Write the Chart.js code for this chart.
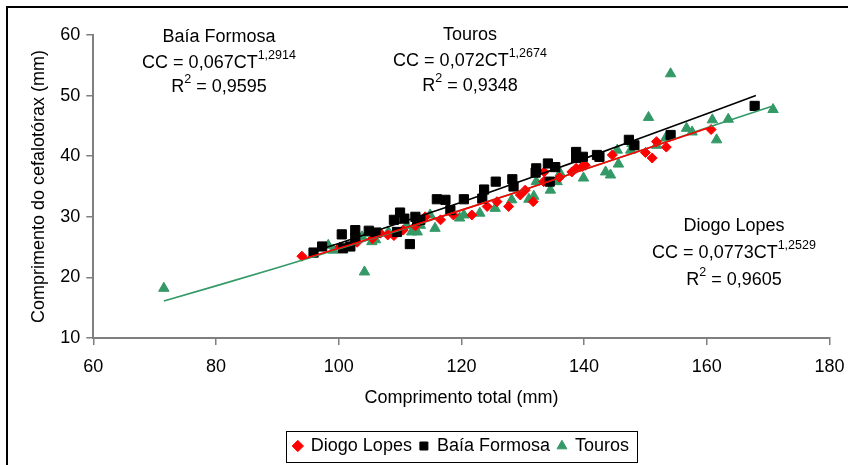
<!DOCTYPE html>
<html>
<head>
<meta charset="utf-8">
<script src="https://cdn.jsdelivr.net/npm/chart.js@4.4.0/dist/chart.umd.min.js"></script>
<style>
  html, body { margin: 0; padding: 0; background: #fff; }
  #wrap { position: relative; width: 848px; height: 465px; }
</style>
</head>
<body>
<div id="wrap"><canvas id="chart" width="848" height="465"></canvas></div>
<script>
// Diogo Lopes (red diamonds)
const dlX = [94.0, 100.2, 103.0, 105.5, 106.8, 108.0, 109.0, 110.5, 112.5, 114.1, 116.6, 118.7, 121.7, 124.2, 125.8, 127.7, 129.6, 130.4, 131.7, 133.4, 133.5, 136.0, 138.0, 138.7, 139.7, 140.2, 144.6, 150.0, 151.1, 151.8, 153.4, 160.7];
const dlY = [23.5, 25.0, 25.8, 26.4, 27.3, 27.0, 26.9, 27.8, 28.5, 30.0, 29.5, 30.3, 30.3, 31.7, 32.5, 31.7, 33.6, 34.4, 32.5, 35.8, 37.4, 36.5, 37.4, 38.0, 38.3, 38.5, 40.2, 40.6, 39.7, 42.4, 41.5, 44.4];

// Baía Formosa (black squares)
const bfX = [95.9, 97.3, 100.5, 100.7, 101.9, 102.7, 102.7, 104.9, 106.0, 109.0, 109.5, 110.0, 110.7, 111.6, 112.5, 112.8, 113.3, 116.0, 117.4, 118.2, 120.4, 123.4, 123.7, 125.6, 128.3, 128.5, 132.1, 132.2, 134.1, 134.4, 135.3, 138.7, 138.7, 139.8, 142.1, 142.5, 147.3, 148.2, 154.1, 167.8];
const bfY = [24.1, 25.1, 27.1, 24.8, 25.1, 27.8, 26.5, 27.7, 27.4, 29.5, 27.5, 30.7, 29.7, 25.5, 30.0, 29.4, 29.5, 32.9, 32.8, 31.1, 32.9, 33.0, 34.5, 35.8, 36.2, 35.0, 37.3, 38.0, 38.8, 35.8, 38.2, 40.7, 39.7, 39.9, 40.2, 39.9, 42.7, 41.8, 43.5, 48.3];

// Touros (green triangles)
const toX = [71.5, 98.3, 99.1, 103.8, 104.2, 104.9, 105.4, 106.0, 106.8, 108.1, 111.1, 111.9, 112.8, 113.3, 114.9, 115.7, 119.7, 120.4, 123.0, 125.5, 128.2, 131.0, 131.8, 132.2, 134.5, 135.6, 136.1, 139.9, 143.5, 144.3, 145.4, 145.6, 147.6, 147.8, 150.5, 151.8, 153.3, 154.1, 156.7, 157.6, 160.9, 161.6, 163.5, 170.8];
const toY = [18.2, 25.3, 24.5, 26.7, 20.9, 27.3, 25.9, 26.2, 27.3, 27.5, 28.6, 27.5, 27.5, 28.6, 30.3, 28.1, 29.8, 30.3, 30.6, 31.4, 32.8, 32.9, 33.4, 35.8, 34.4, 35.8, 37.2, 36.4, 37.4, 36.9, 41.0, 38.7, 41.0, 42.1, 46.4, 41.8, 43.0, 53.6, 44.6, 44.0, 46.0, 42.7, 46.1, 47.7];

// fitted curves
const dlFitX = [94, 100, 110, 120, 130, 140, 150, 160.7];
const dlFitY = [23.0, 24.8, 27.9, 31.1, 34.4, 37.8, 41.2, 44.8];
const bfFitX = [96, 100, 110, 120, 130, 140, 150, 160, 168];
const bfFitY = [24.3, 25.6, 29.0, 32.4, 36.0, 39.6, 43.3, 47.0, 50.0];
const toFitX = [71.5, 80, 90, 100, 110, 120, 130, 140, 150, 160, 170.5];
const toFitY = [16.1, 18.6, 21.6, 24.7, 27.8, 31.1, 34.4, 37.8, 41.2, 44.7, 48.2];

const xTicks = [60, 80, 100, 120, 140, 160, 180];
const yTicks = [10, 20, 30, 40, 50, 60];

const RED = '#ff0000', BLACK = '#000000', GREEN = '#339966';
const FONT = '"Liberation Sans", Arial, sans-serif';

const pts = (xs, ys) => xs.map((x, i) => ({ x: x, y: ys[i] }));

// equation labels: [text, isSuperscript]
const notes = [
  { cx: 219, lines: [[['Baía Formosa', 0]], [['CC = 0,067CT', 0], ['1,2914', 1]], [['R', 0], ['2', 1], [' = 0,9595', 0]]], base: [42, 68, 92] },
  { cx: 470, lines: [[['Touros', 0]], [['CC = 0,072CT', 0], ['1,2674', 1]], [['R', 0], ['2', 1], [' = 0,9348', 0]]], base: [40, 66, 91] },
  { cx: 734, lines: [[['Diogo Lopes', 0]], [['CC = 0,0773CT', 0], ['1,2529', 1]], [['R', 0], ['2', 1], [' = 0,9605', 0]]], base: [231, 258, 285] }
];

const extras = {
  id: 'extras',
  afterLayout(chart) {
    // centre the legend under the plot area, like the original
    const lg = chart.legend;
    lg.left = chart.chartArea.left;
    lg.right = chart.chartArea.right;
    lg.width = lg.right - lg.left;
  },
  beforeDraw(chart) {
    const ctx = chart.ctx;
    ctx.save();
    ctx.strokeStyle = '#000';
    ctx.lineWidth = 2;
    ctx.beginPath();
    ctx.moveTo(7, chart.height);
    ctx.lineTo(7, 7);
    ctx.lineTo(chart.width, 7);
    ctx.stroke();
    ctx.restore();
  },
  afterDraw(chart) {
    const ctx = chart.ctx;
    ctx.save();
    ctx.fillStyle = '#000';
    ctx.textBaseline = 'alphabetic';
    ctx.textAlign = 'left';
    const big = '18px ' + FONT, small = '12.5px ' + FONT;
    notes.forEach(n => {
      n.lines.forEach((parts, li) => {
        let w = 0;
        parts.forEach(p => { ctx.font = p[1] ? small : big; w += ctx.measureText(p[0]).width; });
        let x = n.cx - w / 2;
        const y = n.base[li];
        parts.forEach(p => {
          ctx.font = p[1] ? small : big;
          ctx.fillText(p[0], x, p[1] ? y - 9.5 : y);
          x += ctx.measureText(p[0]).width;
        });
      });
    });
    // box round the legend
    const hb = chart.legend.legendHitBoxes;
    if (hb && hb.length) {
      const l = hb[0].left - 8;
      const r = hb[hb.length - 1].left + hb[hb.length - 1].width + 8;
      ctx.strokeStyle = '#000';
      ctx.lineWidth = 1;
      ctx.strokeRect(Math.round(l) + 0.5, 431.5, Math.round(r - l), 31);
    }
    ctx.restore();
  }
};

Chart.defaults.font.family = FONT;
Chart.defaults.font.size = 18;
Chart.defaults.color = '#000';

new Chart(document.getElementById('chart'), {
  type: 'scatter',
  data: {
    datasets: [
      { label: 'Diogo Lopes', data: pts(dlX, dlY), pointStyle: 'rectRot', pointRadius: 5, pointHoverRadius: 5,
        backgroundColor: RED, borderColor: RED, borderWidth: 1, order: 2 },
      { label: 'Baía Formosa', data: pts(bfX, bfY), pointStyle: 'rect', pointRadius: 6.5, pointHoverRadius: 6.5,
        backgroundColor: BLACK, borderColor: BLACK, borderWidth: 1, order: 1 },
      { label: 'Touros', data: pts(toX, toY), pointStyle: 'triangle', pointRadius: 6, pointHoverRadius: 6,
        backgroundColor: GREEN, borderColor: GREEN, borderWidth: 1, order: 3 },
      { label: 'fitDL', data: pts(dlFitX, dlFitY), showLine: true, pointRadius: 0, borderColor: RED, borderWidth: 1.6, tension: 0, order: 0 },
      { label: 'fitBF', data: pts(bfFitX, bfFitY), showLine: true, pointRadius: 0, borderColor: BLACK, borderWidth: 1.6, tension: 0, order: 0 },
      { label: 'fitTO', data: pts(toFitX, toFitY), showLine: true, pointRadius: 0, borderColor: GREEN, borderWidth: 1.6, tension: 0, order: 0 }
    ]
  },
  options: {
    responsive: false,
    animation: false,
    devicePixelRatio: 1,
    layout: { padding: { top: 35, right: 18.5, left: 0, bottom: 0 } },
    scales: {
      x: {
        type: 'linear',
        min: 60, max: 180,
        afterBuildTicks: s => { s.ticks = xTicks.map(v => ({ value: v })); },
        afterFit: s => { s.height = 91; s.paddingLeft = 0; s.paddingRight = 10; },
        ticks: { padding: 11, font: { size: 18 }, color: '#000' },
        grid: { drawOnChartArea: false, drawTicks: true, tickLength: 7, color: '#7f7f7f', lineWidth: 1.5 },
        border: { color: '#7f7f7f', width: 2 },
        title: { display: true, text: 'Comprimento total (mm)', font: { size: 18 }, color: '#000', padding: { top: 0, bottom: 20 } }
      },
      y: {
        type: 'linear',
        min: 10, max: 60,
        afterBuildTicks: s => { s.ticks = yTicks.map(v => ({ value: v })); },
        afterFit: s => { s.width = 93.3; },
        ticks: { padding: 6, font: { size: 18 }, color: '#000' },
        grid: { drawOnChartArea: false, drawTicks: true, tickLength: 7, color: '#7f7f7f', lineWidth: 1.5 },
        border: { color: '#7f7f7f', width: 2 },
        title: { display: true, text: 'Comprimento do cefalotórax (mm)', font: { size: 18 }, color: '#000', padding: { top: 28, bottom: 0 } }
      }
    },
    plugins: {
      legend: {
        display: true,
        position: 'bottom',
        labels: {
          usePointStyle: true,
          boxWidth: 8,
          boxHeight: 8,
          padding: 8,
          font: { size: 18 },
          color: '#000',
          filter: item => item.datasetIndex < 3,
          sort: (a, b) => a.datasetIndex - b.datasetIndex
        }
      },
      tooltip: { enabled: false }
    }
  },
  plugins: [extras]
});
</script>
</body>
</html>
